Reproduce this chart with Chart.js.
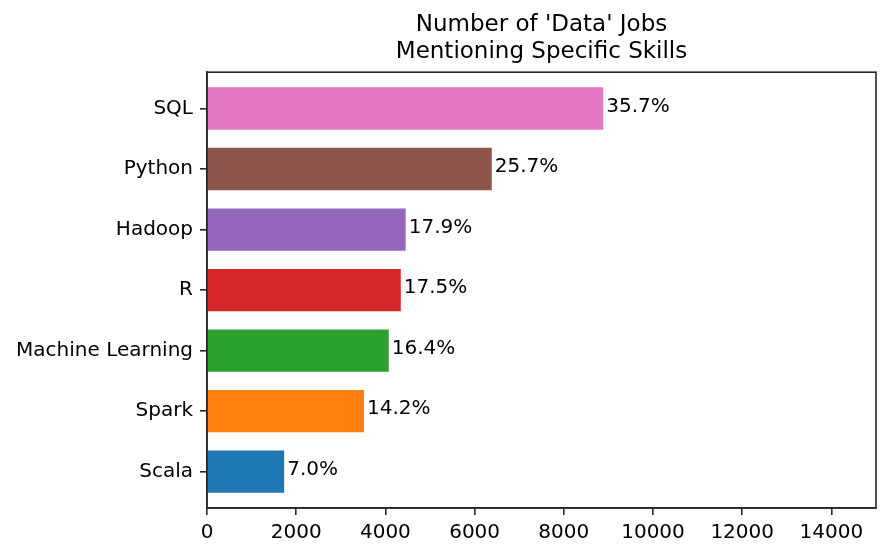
<!DOCTYPE html>
<html>
<head>
<meta charset="utf-8">
<script src="https://cdn.jsdelivr.net/npm/chart.js@4"></script>
<style>
    html, body { margin: 0; padding: 0; background: #fff; }
    #container { width: 894px; height: 555px; }
</style>
</head>
<body>
<div id="container"><canvas id="skills"></canvas></div>
<script>
// Data (bottom to top)
const skills = ['Scala', 'Spark', 'Machine Learning', 'R', 'Hadoop', 'Python', 'SQL'];
const jobCounts = [1730, 3520, 4075, 4345, 4455, 6385, 8885];
const percents = [7.0, 14.2, 16.4, 17.5, 17.9, 25.7, 35.7];
const barColors = ['#1f77b4', '#ff7f0e', '#2ca02c', '#d62728', '#9467bd', '#8c564b', '#e377c2'];
const xTicks = [0, 2000, 4000, 6000, 8000, 10000, 12000, 14000];

const fontFamily = '"DejaVu Sans", sans-serif';
const spineColor = '#262626';

// Points for a linear index axis
const points = jobCounts.map((v, i) => ({ x: v, y: i }));

// Spines all round + percent labels
const framePlugin = {
    id: 'frame',
    afterDatasetsDraw(chart) {
        const ctx = chart.ctx;
        const area = chart.chartArea;
        const meta = chart.getDatasetMeta(0);
        ctx.save();
        ctx.font = '20px ' + fontFamily;
        ctx.fillStyle = '#000';
        ctx.textBaseline = 'middle';
        ctx.textAlign = 'left';
        meta.data.forEach((bar, i) => {
            ctx.fillText(percents[i].toFixed(1) + '%', bar.x + 3, bar.y - 2);
        });
        ctx.strokeStyle = spineColor;
        ctx.lineWidth = 1.6;
        ctx.strokeRect(area.left, area.top, area.right - area.left, area.bottom - area.top);
        ctx.restore();
    }
};

let skillsChart = new Chart(document.getElementById('skills'), {
    type: 'bar',
    data: {
        datasets: [{
            data: points,
            backgroundColor: barColors,
            borderWidth: 0,
            barPercentage: 0.7,
            categoryPercentage: 1
        }]
    },
    options: {
        indexAxis: 'y',
        responsive: true,
        maintainAspectRatio: false,
        animation: false,
        layout: { padding: { top: 0, right: 18, bottom: 0, left: 0 } },
        plugins: {
            legend: { display: false },
            tooltip: { enabled: false },
            title: {
                display: true,
                fullSize: false,
                text: ["Number of 'Data' Jobs", 'Mentioning Specific Skills'],
                color: '#000',
                font: { family: fontFamily, size: 23, weight: 'normal', lineHeight: 1.2 },
                padding: { top: 11, bottom: 6 }
            }
        },
        scales: {
            x: {
                type: 'linear',
                min: 0,
                max: 15000,
                afterBuildTicks: (axis) => {
                    axis.ticks = xTicks.map(v => ({ value: v }));
                },
                afterFit: (axis) => { axis.height = 47; },
                ticks: {
                    color: '#000',
                    font: { family: fontFamily, size: 20 },
                    padding: 6,
                    maxRotation: 0,
                    callback: (v) => String(v)
                },
                grid: { drawOnChartArea: false, drawTicks: true, tickLength: 7, color: spineColor, lineWidth: 1.6 },
                border: { display: true, color: spineColor, width: 1.6 }
            },
            y: {
                type: 'linear',
                offset: false,
                min: -0.6,
                max: 6.6,
                afterBuildTicks: (axis) => {
                    axis.ticks = skills.map((s, i) => ({ value: i }));
                },
                afterFit: (axis) => { axis.width = 207; },
                ticks: {
                    color: '#000',
                    font: { family: fontFamily, size: 20 },
                    padding: 7,
                    callback: (v) => skills[v]
                },
                grid: { offset: false, drawOnChartArea: false, drawTicks: true, tickLength: 7, color: spineColor, lineWidth: 1.6 },
                border: { display: true, color: spineColor, width: 1.6 }
            }
        }
    },
    plugins: [framePlugin]
});
</script>
</body>
</html>
